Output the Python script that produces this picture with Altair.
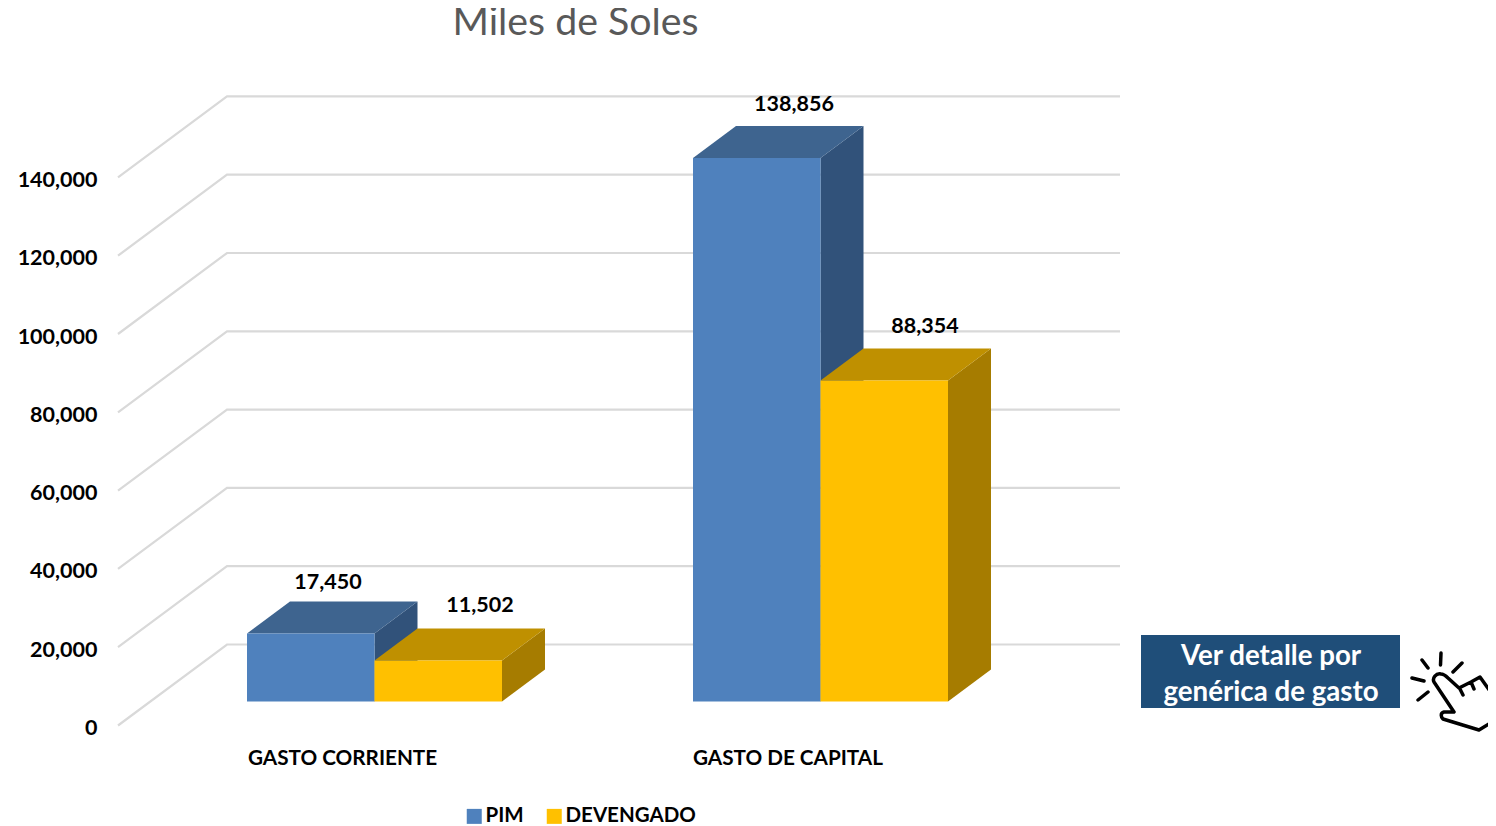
import altair as alt
import pandas as pd

# --- values
CATEGORIES = ["GASTO CORRIENTE", "GASTO DE CAPITAL"]
SERIES = ["PIM", "DEVENGADO"]
PRINTED = {"PIM": ["17,450", "138,856"], "DEVENGADO": ["11,502", "88,354"]}
HEIGHTS = {"PIM": [17400, 138800], "DEVENGADO": [10500, 82000]}
TICKS = [0, 20000, 40000, 60000, 80000, 100000, 120000, 140000]

# --- layout (x in page pixels, y in axis units)
W, H = 1480, 818
PX = 78.3 / 20000
ZERO_PAGE = 725.5
Y_DOMAIN = [(ZERO_PAGE - (8 + H)) / PX, (ZERO_PAGE - 8) / PX]
X_DOMAIN = [8, 8 + W]
FLOOR = (ZERO_PAGE - 701.5) / PX
BAR_DX, BAR_DY = 43, 32 / PX
WALL_X0, WALL_X1, GRID_END = 118, 227, 1120
WALL_DY = 81 / PX
LEFTS = {"PIM": [247, 693], "DEVENGADO": [374.5, 820.5]}
BAR_W = 127.5
LABEL_X = {"PIM": [328, 794], "DEVENGADO": [480, 925]}
LABEL_UP = {"PIM": [50 / PX, 53 / PX], "DEVENGADO": [54 / PX, 53 / PX]}
COLORS = {
    "PIM": ("#4F81BD", "#3E648F", "#31527A"),
    "DEVENGADO": ("#FFC000", "#BF9000", "#A67C00"),
}
FONT = "Lato"

xs = alt.Scale(domain=X_DOMAIN, nice=False, zero=False)
ys = alt.Scale(domain=Y_DOMAIN, nice=False, zero=False)
X = lambda f="x": alt.X(f"{f}:Q", scale=xs, axis=None)
Y = lambda f="y": alt.Y(f"{f}:Q", scale=ys, axis=None)

# gridlines: floor diagonal then back wall
grid_rows = []
for t in TICKS:
    grid_rows += [
        {"t": t, "x": WALL_X0, "y": t},
        {"t": t, "x": WALL_X1, "y": t + WALL_DY},
        {"t": t, "x": GRID_END, "y": t + WALL_DY},
    ]
grid = alt.Chart(pd.DataFrame(grid_rows)).mark_line(color="#D9D9D9", strokeWidth=2.2).encode(
    x=X(),
    y=alt.Y("y:Q", scale=ys, title=None, axis=alt.Axis(
        values=TICKS, format=",d", offset=-89, labelPadding=0, ticks=False, domain=False,
        grid=False, labelFont=FONT, labelFontWeight="bold", labelFontSize=21.5, labelOffset=3,
        labelColor="#000000", labelOverlap=False)),
    detail="t:N",
    order="x:Q",
)

# 3D faces, one table per series
faces, front_rows, label_rows = [], [], []
for s in SERIES:
    _, top_c, side_c = COLORS[s]
    top_rows, side_rows = [], []
    for i, c in enumerate(CATEGORIES):
        l, r = LEFTS[s][i], LEFTS[s][i] + BAR_W
        v = FLOOR + HEIGHTS[s][i]
        top_rows += [
            {"c": c, "y": v, "x": l, "x2": r},
            {"c": c, "y": v + BAR_DY, "x": l + BAR_DX, "x2": r + BAR_DX},
        ]
        side_rows += [
            {"c": c, "x": r, "y": v, "y2": FLOOR},
            {"c": c, "x": r + BAR_DX, "y": v + BAR_DY, "y2": FLOOR + BAR_DY},
        ]
        front_rows.append({"s": s, "c": c, "x": l, "x2": r, "y": v, "y2": FLOOR})
        label_rows.append({"x": LABEL_X[s][i], "y": v + LABEL_UP[s][i], "t": PRINTED[s][i]})
    faces.append(alt.Chart(pd.DataFrame(side_rows)).mark_area(color=side_c, orient="vertical").encode(
        x=X(), y=Y(), y2="y2:Q", detail="c:N"))
    faces.append(alt.Chart(pd.DataFrame(top_rows)).mark_area(color=top_c, orient="horizontal").encode(
        y=Y(), x=X(), x2="x2:Q", detail="c:N"))

fronts = alt.Chart(pd.DataFrame(front_rows)).mark_rect().encode(
    x=X(), x2="x2:Q", y=Y(), y2="y2:Q",
    color=alt.Color("s:N", scale=alt.Scale(domain=SERIES, range=[COLORS[s][0] for s in SERIES]),
                    legend=alt.Legend(
                        orient="none", legendX=456, legendY=798, direction="horizontal", title=None,
                        symbolType="square", symbolSize=225, symbolStrokeWidth=0, labelFont=FONT,
                        labelFontWeight="bold", labelFontSize=20.5, labelColor="#000000",
                        columnPadding=20, labelOffset=1, padding=0)),
)

labels = alt.Chart(pd.DataFrame(label_rows)).mark_text(
    font=FONT, fontWeight="bold", fontSize=21.5, color="#000000").encode(x=X(), y=Y(), text="t:N")

cats = alt.Chart(pd.DataFrame({"c": CATEGORIES, "x": [248, 693]})).mark_text(
    font=FONT, fontWeight="bold", fontSize=20.7, color="#000000", align="left"
).encode(x=X(), y=alt.value(751), text="c:N")

def fixed_text(text, x, y, size, color, weight="bold"):
    return alt.Chart(pd.DataFrame({"t": [text]})).mark_text(
        font=FONT, fontSize=size, color=color, fontWeight=weight
    ).encode(x=alt.value(x - 8), y=alt.value(y - 8), text="t:N")

title = fixed_text("Miles de Soles", 575.5, 23, 39.3, "#595959", "normal")
button = alt.Chart(pd.DataFrame({"a": [1]})).mark_rect(color="#1F4E79").encode(
    x=alt.value(1141 - 8), x2=alt.value(1400 - 8), y=alt.value(635 - 8), y2=alt.value(708 - 8))
b1 = fixed_text("Ver detalle por", 1271, 657, 27.7, "#FFFFFF")
b2 = fixed_text("genérica de gasto", 1271, 693, 27.7, "#FFFFFF")

# hand icon: custom symbol path, coordinates are pixels from its centre
HAND = (
    "M-10 -39L-10.5 -27 M-29 -32L-23 -24 M11 -29L2 -20 M-39 -14L-27 -11 M-23 0L-33 8 "
    "M-10 -18C-15 -19 -19 -14 -17 -10L3 20L-7 20C-11 21 -10 25 -8 27L28 38L41 30L41 2"
    "L29 -15L20 -10L8 -4L-3 -14C-5 -16 -7 -18 -10 -18Z "
    "M9 -3L12 3 M20 -10L23 -3"
)
hand = alt.Chart(pd.DataFrame({"a": [1]})).mark_point(
    shape=HAND, size=4, filled=False, color="#000000", strokeWidth=3.5, opacity=1,
    strokeCap="round", strokeJoin="round"
).encode(x=alt.value(1451 - 8), y=alt.value(692 - 8))

chart = alt.layer(grid, *faces, fronts, labels, cats, title, button, b1, b2, hand).properties(
    width=W, height=H, padding=0, autosize=alt.AutoSizeParams(type="none"), background="#FFFFFF",
).configure_view(stroke=None).resolve_scale(x="shared", y="shared").resolve_axis(y="independent")

chart.save("out.html", embed_options={"renderer": "svg", "actions": False})
